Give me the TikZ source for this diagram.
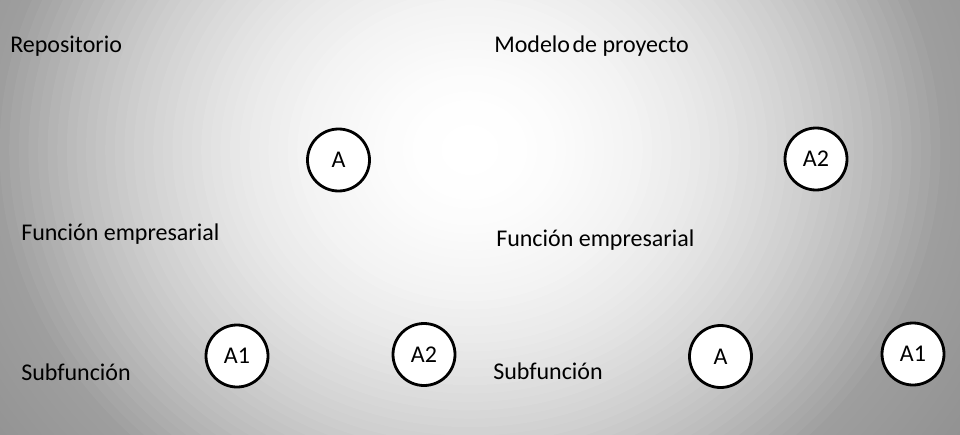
\documentclass[tikz,border=0pt]{standalone}
\usepackage{fontspec}
\setmainfont{Carlito}
\usepackage{tikz}

\begin{document}
\begin{tikzpicture}[x=0.75pt,y=-0.75pt,
  main/.style = {draw, circle, fill=white, line width=2.1pt, minimum size=46.5pt, inner sep=0pt, font=\fontsize{18}{21}\selectfont},
  lbl/.style = {anchor=base west, inner sep=0pt, font=\fontsize{18}{21}\selectfont}]
        \useasboundingbox (0,0) rectangle (960,435);
        % background glow, light in the middle and grey at the sides
        \begin{scope}
          \clip (0,0) rectangle (960,435);
          \foreach \k in {66,...,1} {
            \pgfmathsetmacro\r{\k/50}
            \pgfmathsetmacro\g{\r<=1 ? 1-0.38*\r*\r : 0.62-0.2*(\r-1)}
            \pgfmathsetmacro\rx{360*\r}
            \pgfmathsetmacro\ry{315*\r}
            \definecolor{bgtone}{gray}{\g}
            \fill[bgtone] (470,150) ellipse [x radius=\rx pt, y radius=\ry pt];
          }
        \end{scope}
        % left: repositorio
        \node[lbl] at (10,53) (repo) {Repositorio};
        \node[lbl] at (21,240) (funcL) {Función empresarial};
        \node[lbl] at (21,380) (subL) {Subfunción};
        \node[main] at (338.5,160) (repoA) {A};
        \node[main] at (237,356) (repoA1) {A1};
        \node[main] at (424,354.5) (repoA2) {A2};
        % right: modelo de proyecto
        \node[lbl] at (494,53) (proj) {Modelo\hspace{0.1em}de proyecto};
        \node[lbl] at (496,246) (funcR) {Función empresarial};
        \node[lbl] at (493,379) (subR) {Subfunción};
        \node[main] at (816,159) (projA2) {A2};
        \node[main] at (720.5,356.5) (projA) {A};
        \node[main] at (913,354) (projA1) {A1};
        \end{tikzpicture}
\end{document}
